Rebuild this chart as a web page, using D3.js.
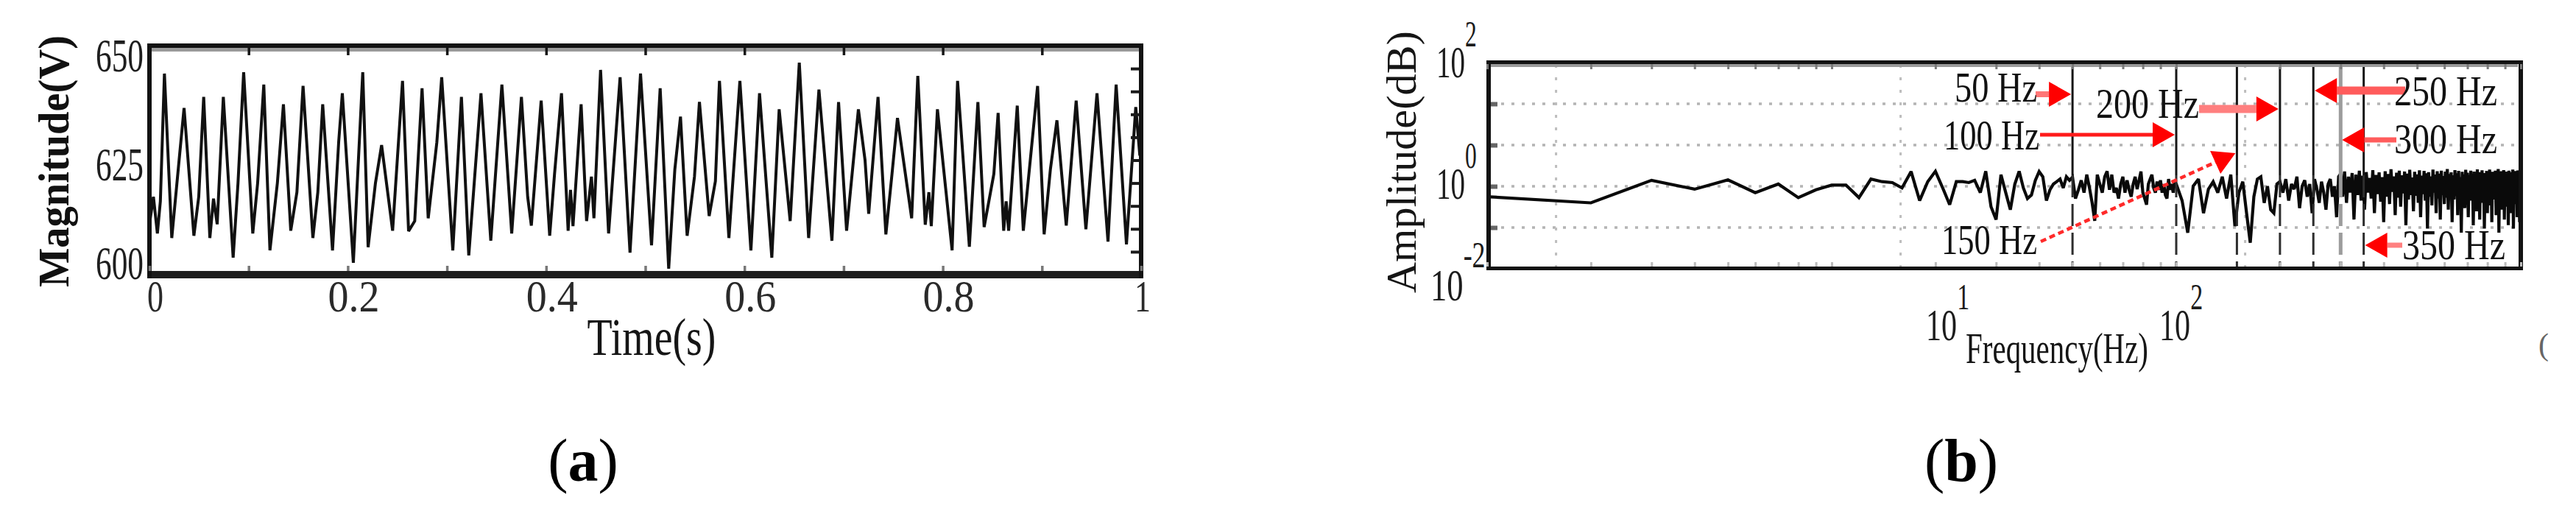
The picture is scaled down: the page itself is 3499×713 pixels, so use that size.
<!DOCTYPE html>
<html><head><meta charset="utf-8">
<script src="https://cdn.jsdelivr.net/npm/d3@7"></script>
<style>html,body{margin:0;padding:0;background:#fff;} svg{display:block;}</style>
</head><body>
<script>
// ---------------- DATA ----------------
// (a) time-domain voltage: vertices
const timeS = [
0, 0.004, 0.008, 0.011, 0.0151, 0.0225, 0.0299, 0.0349, 0.0448, 0.0497,
0.0547, 0.0609, 0.0646, 0.0683, 0.0745, 0.0844, 0.0893, 0.0950, 0.1042, 0.1091,
0.1153, 0.1215, 0.1290, 0.1351, 0.1425, 0.1487, 0.1549, 0.1648, 0.1698, 0.1747,
0.1846, 0.1908, 0.1945, 0.2056, 0.2151, 0.2205, 0.2279, 0.2341, 0.2452, 0.2552,
0.2613, 0.2675, 0.2749, 0.2811, 0.2898, 0.2947, 0.3059, 0.3146, 0.3220, 0.3343,
0.3442, 0.3554, 0.3653, 0.3751, 0.3814, 0.3851, 0.3950, 0.4036, 0.4085, 0.4155,
0.4222, 0.4246, 0.4271, 0.4353, 0.4408, 0.4457, 0.4482, 0.4549, 0.4630, 0.4746,
0.4846, 0.4952, 0.5063, 0.5150, 0.5236, 0.5298, 0.5355, 0.5422, 0.5496, 0.5546,
0.5644, 0.5707, 0.5748, 0.5843, 0.5954, 0.6065, 0.6152, 0.6276, 0.6350, 0.6461,
0.6553, 0.6647, 0.6751, 0.6882, 0.6949, 0.7030, 0.7149, 0.7216, 0.7253, 0.7347,
0.7426, 0.7488, 0.7543, 0.7686, 0.7748, 0.7823, 0.7860, 0.7884, 0.7946, 0.8094,
0.8149, 0.8268, 0.8354, 0.8417, 0.8515, 0.8558, 0.8614, 0.8639, 0.8664, 0.8751,
0.8812, 0.8956, 0.9022, 0.9085, 0.9151, 0.9245, 0.9345, 0.9443, 0.9555, 0.9666,
0.9748, 0.9852, 0.9946, 0.9987];
const voltageV = [
611, 617, 609, 616, 643.9, 608, 625, 636.4, 608.5, 617,
638.8, 608, 616.6, 611, 638.8, 603.7, 620, 644.2, 609, 620,
641.5, 605.3, 620, 637.2, 609.6, 618, 641.2, 608, 618, 637.2,
605.3, 628.9, 639.6, 602.6, 644.2, 606, 620, 628.3, 609.6, 642.3,
609.5, 611.7, 640.7, 612.3, 628.9, 643.1, 605.3, 638.8, 604.2, 639.6,
607.4, 641.5, 609, 638.8, 617, 610.7, 638, 608.5, 622, 639.6,
609.6, 618.5, 610.6, 637.2, 611.7, 621.4, 612.3, 644.7, 609, 643.1,
604.8, 643.9, 606.4, 640.7, 601.3, 623, 634.5, 608.5, 621.4, 637.7,
612.8, 620.4, 642.3, 608, 642.3, 605.3, 639.6, 603.7, 636.1, 611.7,
646.3, 608, 640.4, 607.4, 637.7, 609.6, 636.1, 625, 613.3, 638.8,
608.8, 622, 634.2, 612.3, 643.4, 610.9, 618, 610.6, 636.1, 605.3,
642.3, 606.1, 637.7, 610.4, 622, 635.3, 609.6, 616, 609.6, 636.9,
609.6, 641.2, 608.8, 623, 633.7, 610.7, 638, 609.9, 639.6, 607.2,
641.5, 606.6, 636.6, 626];
const timeTicks = [0, 0.2, 0.4, 0.6, 0.8, 1];
const voltTicks = [600, 625, 650];

// (b) amplitude spectrum, bins 1..99 Hz (1 Hz step)
const specLowAmp = [
0.25,0.19,0.52,0.35,0.53,0.30,0.44,0.24,0.34,0.42,
0.42,0.24,0.55,0.49,0.47,0.37,0.77,0.21,0.49,0.78,
0.37,0.175,0.49,0.49,0.47,0.52,0.30,0.78,0.16,0.09,
0.67,0.30,0.14,0.44,0.78,0.37,0.23,0.27,0.52,0.77,
0.61,0.21,0.34,0.44,0.49,0.55,0.37,0.61,0.52,0.60,
0.23,0.34,0.52,0.30,0.67,0.37,0.19,0.085,0.67,0.44,
0.30,0.61,0.78,0.34,0.67,0.30,0.37,0.23,0.44,0.61,
0.30,0.52,0.34,0.25,0.44,0.61,0.35,0.52,0.77,0.30,
0.23,0.175,0.44,0.55,0.67,0.37,0.30,0.49,0.34,0.52,
0.30,0.44,0.27,0.23,0.55,0.34,0.44,0.30,0.49];
// bins 100..1000 Hz (4 Hz step)
const specHighAmp = [
0.44,0.21,0.05,0.40,0.55,0.12,0.35,0.49,0.30,0.61,0.23,0.67,0.067,0.30,0.49,0.12,0.032,0.25,0.55,0.61,0.19,0.40,0.14,0.12,0.44,
0.49,0.30,0.55,0.21,0.44,0.35,0.61,0.15,0.40,0.52,0.25,0.44,0.12,0.55,0.35,0.19,0.49,0.30,0.14,0.44,0.55,0.25,0.40,0.10,0.61,
0.70,0.25,0.77,0.19,0.61,0.30,0.72,0.09,0.67,0.27,0.80,0.21,0.64,0.14,0.75,0.30,0.58,0.23,0.82,0.12,0.66,0.28,0.74,0.20,0.60,
0.08,0.78,0.25,0.69,0.18,0.85,0.31,0.62,0.11,0.73,0.24,0.80,0.16,0.65,0.29,0.77,0.07,0.70,0.22,0.83,0.27,0.59,0.13,0.76,0.26,
0.68,0.19,0.81,0.10,0.64,0.28,0.79,0.21,0.71,0.06,0.75,0.25,0.62,0.17,0.84,0.30,0.67,0.12,0.78,0.23,0.70,0.09,0.80,0.27,0.63,
0.18,0.77,0.24,0.86,0.14,0.69,0.29,0.74,0.08,0.65,0.22,0.82,0.26,0.71,0.11,0.79,0.20,0.60,0.05,0.76,0.28,0.68,0.15,0.83,0.25,
0.73,0.10,0.66,0.21,0.80,0.30,0.70,0.07,0.77,0.23,0.62,0.13,0.85,0.27,0.69,0.09,0.75,0.19,0.81,0.26,0.64,0.06,0.72,0.24,0.79,
0.12,0.67,0.29,0.84,0.17,0.70,0.08,0.76,0.22,0.63,0.27,0.80,0.11,0.73,0.20,0.86,0.05,0.68,0.25,0.78,0.14,0.65,0.30,0.82,0.09,
0.71,0.23,0.77,0.16,0.62,0.07,0.80,0.26,0.69,0.12,0.75,0.21,0.84,0.06,0.66,0.28,0.79,0.18,0.72,0.10,0.81,0.24,0.67,0.08,0.76,
0.30];
const harmonicFreqs = [50, 100, 150, 200, 250, 300, 350];
const harmonicLabels = ["50 Hz", "100 Hz", "150 Hz", "200 Hz", "250 Hz", "300 Hz", "350 Hz"];
const ampTicks = [100, 1, 0.01];
const ampTickExp = ["2", "0", "-2"];
const freqTicks = [10, 100];
const freqTickExp = ["1", "2"];

// ---------------- LAYOUT ----------------
const W = 3499, H = 713;
const FONT = "'Liberation Serif','Times New Roman',serif";
const svg = d3.select("body").append("svg").attr("width", W).attr("height", H)
  .style("font-family", FONT);
svg.append("rect").attr("width", W).attr("height", H).attr("fill", "#fff");
const defs = svg.append("defs");

// text helper: optional target width `tl` is reached by a horizontal scale (condensed look)
function txt(g, x, y, s, o) {
  o = o || {};
  const t = g.append("text").attr("x", 0).attr("y", 0).text(s)
    .attr("font-size", o.fs || 60).attr("fill", o.fill || "#151515")
    .attr("text-anchor", o.anchor || "middle");
  if (o.weight) t.attr("font-weight", o.weight);
  let sx = 1;
  if (o.tl) {
    const nat = t.node().getComputedTextLength();
    if (nat > 0) sx = o.tl / nat;
  }
  t.attr("transform", `translate(${x},${y})${o.rot ? ` rotate(${o.rot})` : ""} scale(${sx},1)`);
  return t;
}
// "10" with a raised exponent, drawn as ONE text element, horizontally condensed
function powLabel(g, xLeft, baseline, exp, sx, expRise) {
  const t = g.append("text").attr("transform", `translate(${xLeft},${baseline}) scale(${sx},1)`)
    .attr("font-size", 62).attr("fill", "#1c1c1c").attr("text-anchor", "start");
  t.append("tspan").attr("x", 0).attr("y", 0).text("10");
  t.append("tspan").attr("font-size", 50).attr("dy", -expRise).text(exp);
  return t;
}

// ================= PANEL (a) =================
const ax = d3.scaleLinear().domain([0, 1]).range([203, 1550]);
const ay = d3.scaleLinear().domain([600, 650]).range([373, 62]);
const ga = svg.append("g");

defs.append("clipPath").attr("id", "clipA")
  .append("rect").attr("x", 204).attr("y", 62).attr("width", 1345).attr("height", 308);

// waveform
ga.append("path").datum(d3.zip(timeS, voltageV))
  .attr("clip-path", "url(#clipA)")
  .attr("d", d3.line().x(d => ax(d[0])).y(d => ay(d[1])))
  .attr("fill", "none").attr("stroke", "#111").attr("stroke-width", 4)
  .attr("stroke-linejoin", "miter").attr("stroke-miterlimit", 3);

// frame (a)
ga.append("rect").attr("x", 204).attr("y", 64).attr("width", 1345).attr("height", 6).attr("fill", "#9a9a9a");
ga.append("rect").attr("x", 200).attr("y", 59).attr("width", 1353).attr("height", 6).attr("fill", "#121212");
ga.append("rect").attr("x", 200).attr("y", 368).attr("width", 1353).attr("height", 10).attr("fill", "#1d1d1d");
ga.append("rect").attr("x", 200).attr("y", 59).attr("width", 6).attr("height", 319).attr("fill", "#121212");
ga.append("rect").attr("x", 1547).attr("y", 59).attr("width", 6).attr("height", 319).attr("fill", "#121212");

// inward ticks (a): top/bottom every 0.1, right every 5 V
ga.append("g").attr("transform", "translate(0,65)")
  .call(d3.axisBottom(ax).ticks(10).tickSize(10).tickFormat(""))
  .call(g => g.select(".domain").remove())
  .call(g => g.selectAll("line").attr("stroke", "#151515").attr("stroke-width", 3.5));
ga.append("g").attr("transform", "translate(0,368)")
  .call(d3.axisTop(ax).ticks(10).tickSize(7).tickFormat(""))
  .call(g => g.select(".domain").remove())
  .call(g => g.selectAll("line").attr("stroke", "#777").attr("stroke-width", 3.5));
ga.append("g").attr("transform", "translate(1547,0)")
  .call(d3.axisLeft(ay).tickValues(d3.range(605, 650, 5)).tickSize(11).tickFormat(""))
  .call(g => g.select(".domain").remove())
  .call(g => g.selectAll("line").attr("stroke", "#1a1a1a").attr("stroke-width", 4));

// tick labels (a)
const aXLabShift = 8;
timeTicks.forEach(t => {
  const s = d3.format("~g")(t);
  txt(ga, ax(t) + (t === 1 ? 2 : aXLabShift), 423, s, {fs: 62, tl: s.length > 1 ? 70 : 22, fill: "#2a2a2a"});
});
const aYLabShift = [6, 27, 35];
voltTicks.forEach((v, i) => {
  txt(ga, 195, ay(v) + aYLabShift[i], String(v), {fs: 64, tl: 65, anchor: "end", fill: "#1e1e1e"});
});
txt(ga, 885, 482, "Time(s)", {fs: 72, tl: 175, fill: "#151515"});
txt(ga, 93, 219, "Magnitude(V)", {fs: 60, tl: 342, weight: "bold", fill: "#111", rot: -90});
const la = ga.append("text").attr("x", 792).attr("y", 653).attr("text-anchor", "middle")
  .attr("font-size", 82).attr("fill", "#000");
la.append("tspan").text("(");
la.append("tspan").attr("font-weight", "bold").text("a");
la.append("tspan").text(")");

// ================= PANEL (b) =================
const bx = d3.scaleLog().domain([1, 1000]).range([2020, 3424]);
const by = d3.scaleLog().domain([0.01, 100]).range([365, 85]);
const gb = svg.append("g");
defs.append("clipPath").attr("id", "clipB")
  .append("rect").attr("x", 2024).attr("y", 86).attr("width", 1398).attr("height", 277);

// dotted grid (5 even divisions vertically, offset decades horizontally)
const hGrid = [Math.pow(10, -1.2), Math.pow(10, -0.4), Math.pow(10, 0.4), Math.pow(10, 1.2)];
const vGrid = [Math.pow(10, 0.2), Math.pow(10, 1.2), Math.pow(10, 2.2)];
gb.selectAll("line.hg").data(hGrid).join("line").attr("class", "hg")
  .attr("x1", 2025).attr("x2", 3420).attr("y1", d => by(d)).attr("y2", d => by(d))
  .attr("stroke", "#b4b4b4").attr("stroke-width", 3.5).attr("stroke-dasharray", "4,10");
gb.selectAll("line.vg").data(vGrid).join("line").attr("class", "vg")
  .attr("y1", 88).attr("y2", 362).attr("x1", d => bx(d)).attr("x2", d => bx(d))
  .attr("stroke", "#bdbdbd").attr("stroke-width", 3).attr("stroke-dasharray", "4,13");

// spectrum
const specFreq = d3.range(1, 100).concat(d3.range(100, 1001, 4));
const specAmp = specLowAmp.concat(specHighAmp);
gb.append("path").datum(d3.zip(specFreq, specAmp))
  .attr("clip-path", "url(#clipB)")
  .attr("d", d3.line().x(d => bx(d[0])).y(d => by(d[1])))
  .attr("fill", "none").attr("stroke", "#0a0a0a").attr("stroke-width", 4.2)
  .attr("stroke-linejoin", "miter").attr("stroke-miterlimit", 2.5);

// harmonic components
harmonicFreqs.forEach(f => {
  const gray = f === 300;
  const col = gray ? "#9c9c9c" : "#161616";
  const sw = gray ? 5 : 3;
  gb.append("line").attr("x1", bx(f)).attr("x2", bx(f)).attr("y1", 87).attr("y2", 238)
    .attr("stroke", col).attr("stroke-width", sw);
  gb.append("line").attr("x1", bx(f)).attr("x2", bx(f)).attr("y1", 238).attr("y2", 362)
    .attr("stroke", gray ? col : "#2e2e2e").attr("stroke-width", sw).attr("stroke-dasharray", "30,9");
});

// frame (b)
gb.append("rect").attr("x", 2025).attr("y", 86).attr("width", 1395).attr("height", 5).attr("fill", "#9a9a9a");
gb.append("rect").attr("x", 2019).attr("y", 82).attr("width", 1408).attr("height", 5).attr("fill", "#121212");
gb.append("rect").attr("x", 2019).attr("y", 362).attr("width", 1408).attr("height", 5).attr("fill", "#121212");
gb.append("rect").attr("x", 2019).attr("y", 82).attr("width", 6).attr("height", 285).attr("fill", "#121212");
gb.append("rect").attr("x", 3421).attr("y", 82).attr("width", 6).attr("height", 285).attr("fill", "#121212");

// minor log ticks (b)
gb.append("g").attr("transform", "translate(0,87)")
  .call(d3.axisBottom(bx).tickSize(7).tickFormat(""))
  .call(g => g.select(".domain").remove())
  .call(g => g.selectAll("line").attr("stroke", "#7a7a7a").attr("stroke-width", 3));
gb.append("g").attr("transform", "translate(0,362)")
  .call(d3.axisTop(bx).tickSize(6).tickFormat(""))
  .call(g => g.select(".domain").remove())
  .call(g => g.selectAll("line").attr("stroke", "#bbb").attr("stroke-width", 3));
gb.append("g").attr("transform", "translate(2025,0)")
  .call(d3.axisRight(by).tickValues(hGrid).tickSize(9).tickFormat(""))
  .call(g => g.select(".domain").remove())
  .call(g => g.selectAll("line").attr("stroke", "#666").attr("stroke-width", 6));

// y tick labels (b): 10^k  (label offsets mirror the reference's placement)
const bYBaseOff = [20, 45, 43], bYExpRise = [42, 42, 45], bYLeft = [1951, 1951, 1943], bYsx = [0.63, 0.63, 0.72];
ampTicks.forEach((v, i) => {
  powLabel(gb, bYLeft[i], by(v) + bYBaseOff[i], ampTickExp[i], bYsx[i], bYExpRise[i]);
});
// x tick labels (b)
const bXLabShift = [149, -2];
freqTicks.forEach((f, i) => {
  powLabel(gb, bx(f) + bXLabShift[i] - 21, 462, freqTickExp[i], 0.68, 42);
});
txt(gb, 2794, 493, "Frequency(Hz)", {fs: 60, tl: 248, fill: "#151515"});
txt(gb, 1923, 220, "Amplitude(dB)", {fs: 58, tl: 356, fill: "#151515", rot: -90});

// annotations
const annLayout = [
  {tx: 2655, ty: 138, tw: 112, x0: 2765, y0: 128, y1: 128, sw: 8, col: "#ff7676", dir: 1},
  {tx: 2640, ty: 203, tw: 130, x0: 2771, y0: 183, y1: 183, sw: 5, col: "#ff1a1a", dir: 1},
  {tx: 2637, ty: 345, tw: 130, x0: 2772, y0: 328, y1: 208, sw: 4.5, col: "#ff2a2a", dir: 1, dash: "8,5"},
  {tx: 2847, ty: 160, tw: 140, x0: 2987, y0: 148, y1: 148, sw: 11, col: "#ff7f7f", dir: 1},
  {tx: 3252, ty: 143, tw: 140, x0: 3267, y0: 123, y1: 123, sw: 11, col: "#ff5c5c", dir: -1},
  {tx: 3252, ty: 208, tw: 140, x0: 3255, y0: 190, y1: 190, sw: 7, col: "#ff5c5c", dir: -1},
  {tx: 3263, ty: 352, tw: 140, x0: 3263, y0: 333, y1: 333, sw: 7, col: "#ff8080", dir: -1}
];
const ga2 = svg.append("g");
harmonicFreqs.forEach((f, i) => {
  const L = annLayout[i];
  const tipX = bx(f) - 2 * L.dir, tipY = L.y1;
  const dx = tipX - L.x0, dy = tipY - L.y0, len = Math.hypot(dx, dy);
  const ux = dx / len, uy = dy / len, hl = 30, hw = 17;
  const bxp = tipX - ux * hl, byp = tipY - uy * hl;
  const sh = ga2.append("line").attr("x1", L.x0).attr("y1", L.y0).attr("x2", bxp).attr("y2", byp)
    .attr("stroke", L.col).attr("stroke-width", L.sw);
  if (L.dash) sh.attr("stroke-dasharray", L.dash);
  ga2.append("polygon").attr("points", [
    [tipX, tipY], [bxp - uy * hw, byp + ux * hw], [bxp + uy * hw, byp - ux * hw]
  ].map(p => p.join(",")).join(" ")).attr("fill", "#ff0000");
  txt(ga2, L.tx, L.ty, harmonicLabels[i], {fs: 57, tl: L.tw, anchor: "start", fill: "#111"});
});

// panel label (b) and stray mark
const lb = svg.append("text").attr("x", 2664).attr("y", 653).attr("text-anchor", "middle")
  .attr("font-size", 82).attr("fill", "#000");
lb.append("tspan").text("(");
lb.append("tspan").attr("font-weight", "bold").text("b");
lb.append("tspan").text(")");
txt(svg, 3455, 482, "(", {fs: 42, fill: "#666"});
</script>
</body></html>
